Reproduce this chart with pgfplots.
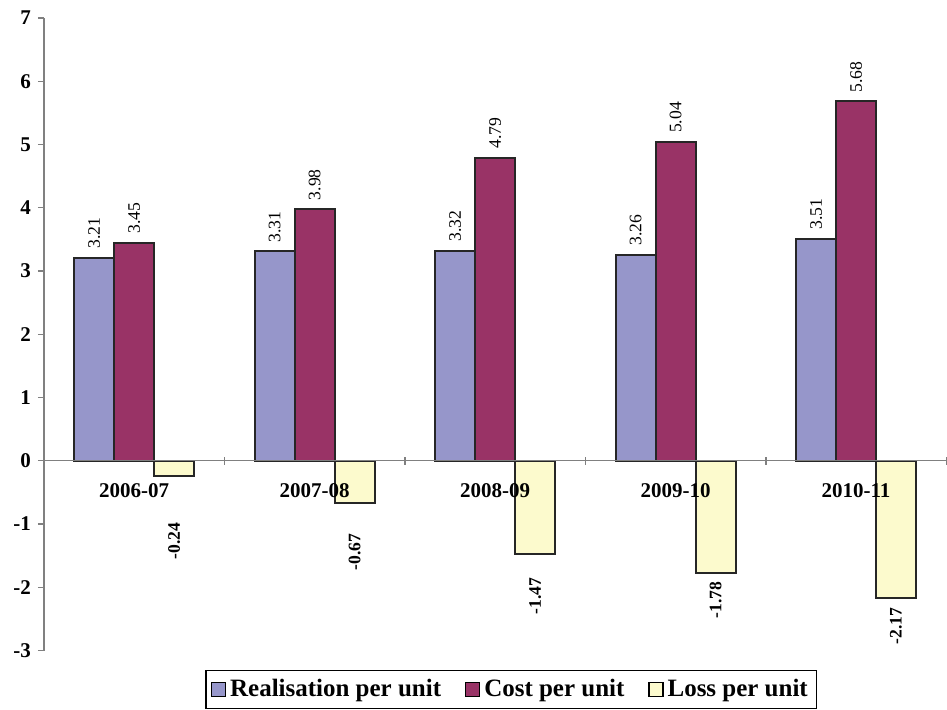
\documentclass[border=0pt]{standalone}
\usepackage{pgfplots}
\pgfplotsset{compat=1.18}
\usepackage{fontspec}
\setmainfont{Liberation Serif}
\definecolor{realc}{HTML}{9696CA}
\definecolor{costc}{HTML}{993366}
\definecolor{lossc}{HTML}{FCFACD}
\definecolor{axc}{HTML}{808080}
\begin{document}
\begin{tikzpicture}
\begin{axis}[
  scale only axis,
  width=451.5pt, height=316.5pt,
  xmin=-0.5, xmax=4.5, ymin=-3, ymax=7,
  enlargelimits=false,
  axis on top,
  ybar, bar width=20pt,
  axis x line=middle, axis y line=left,
  axis line style={-, draw=axc, line width=0.7pt},
  /pgf/number format/assume math mode=true,
  ytick={-3,...,7},
  yticklabel style={font=\fontsize{10.5}{12}\selectfont\bfseries},
  xtick={0,...,4},
  xticklabels={2006-07,2007-08,2008-09,2009-10,2010-11},
  xticklabel style={font=\fontsize{10.5}{12}\selectfont\bfseries, yshift=-5pt},
  minor xtick={0.5,1.5,2.5,3.5,4.5},
  major x tick style={draw=none},
  minor x tick style={draw=axc, line width=0.7pt, yshift=2pt},
  minor tick length=4pt,
  y tick style={draw=axc, line width=0.7pt},
  tick align=outside,
  major tick length=3pt,
  legend style={at={(0.518,0)}, anchor=north, yshift=-9.5pt, draw=black, line width=0.6pt,
    font=\fontsize{12.5}{14}\selectfont\bfseries, legend columns=3,
    /tikz/every even column/.append style={column sep=10pt}, inner sep=2.5pt},
  legend image code/.code={\draw[#1, draw=black, line width=0.6pt] (0pt,-3.5pt) rectangle (7pt,3.5pt);},
  every axis plot/.append style={draw=black!85, line width=1pt},
]
\addplot[fill=realc, bar shift=-20pt, nodes near coords,
  /pgf/number format/.cd, fixed, fixed zerofill, precision=2, /pgfplots/.cd,
  every node near coord/.append style={rotate=90, anchor=west, font=\fontsize{8.8}{10}\selectfont, inner sep=4pt, black}]
  coordinates {(0,3.21) (1,3.31) (2,3.32) (3,3.26) (4,3.51)};
\addlegendentry{Realisation per unit}
\addplot[fill=costc, bar shift=0pt, nodes near coords,
  /pgf/number format/.cd, fixed, fixed zerofill, precision=2, /pgfplots/.cd,
  every node near coord/.append style={rotate=90, anchor=west, font=\fontsize{8.8}{10}\selectfont, inner sep=4pt, black}]
  coordinates {(0,3.45) (1,3.98) (2,4.79) (3,5.04) (4,5.68)};
\addlegendentry{Cost per unit}
\addplot[fill=lossc, bar shift=20pt]
  coordinates {(0,-0.24) (1,-0.67) (2,-1.47) (3,-1.78) (4,-2.17)};
\addlegendentry{Loss per unit}
\addplot[sharp plot, draw=none, mark=none, forget plot, bar shift=20pt, nodes near coords, point meta=explicit,
  /pgf/number format/.cd, fixed, fixed zerofill, precision=2, /pgfplots/.cd,
  every node near coord/.append style={rotate=90, anchor=east, font=\fontsize{8.8}{10}\selectfont\bfseries, inner sep=0pt, black}]
  table[x=x, y=lp, meta=v] {
x lp v
0 -0.96 -0.24
1 -1.14 -0.67
2 -1.83 -1.47
3 -1.90 -1.78
4 -2.31 -2.17
};
\end{axis}
\path[use as bounding box] (-22pt,-25.5pt) rectangle (451.5pt,325.5pt);
\end{tikzpicture}
\end{document}
